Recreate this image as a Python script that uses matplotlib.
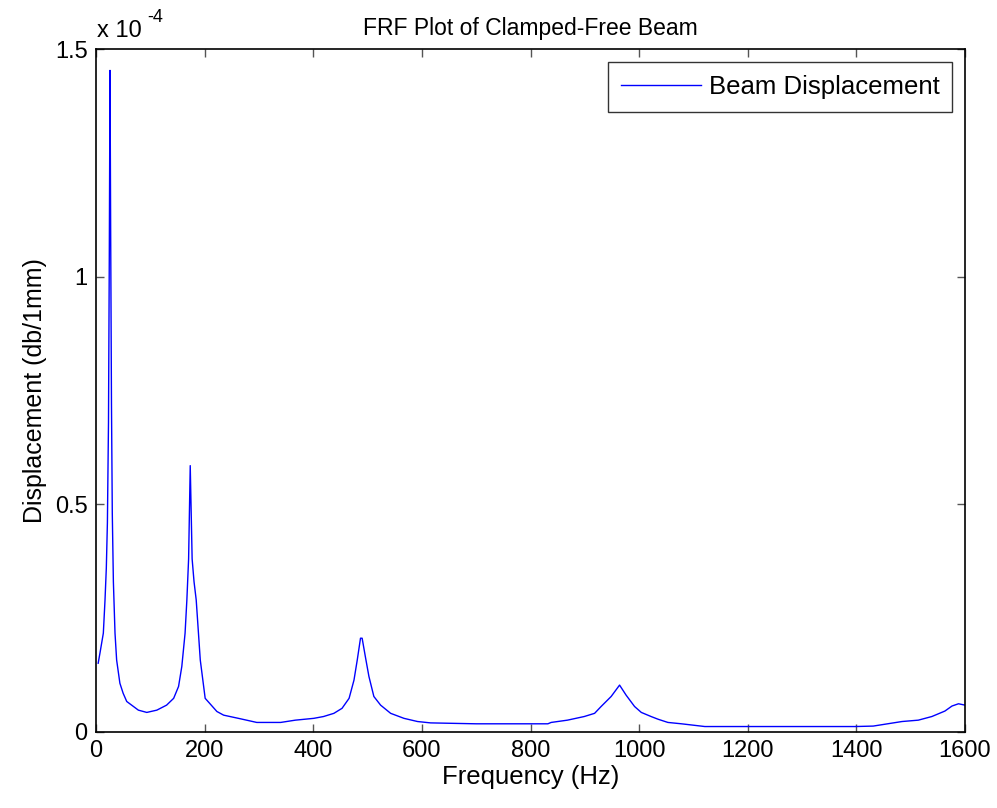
import matplotlib
matplotlib.use("Agg")
import matplotlib.pyplot as plt

plt.rcParams['font.family'] = ['Liberation Sans', 'DejaVu Sans']

# Frequency (Hz)
freq = [4, 7.4, 13.5, 16.6, 19, 21, 23, 24.5, 25.8, 27, 28.5, 30, 32, 35, 38, 44, 50,
        56.6, 69, 78, 93.5, 112, 130, 143, 152, 158, 164, 167.3, 170.5, 173.5, 177,
        180.5, 184.5, 192, 201, 222.6, 235, 266, 296, 340, 367, 401, 419, 438, 453,
        466, 475, 481, 487, 490, 496, 502.5, 511.6, 524, 542.5, 567, 592, 616, 700,
        832, 838, 868, 899, 918, 930, 948.5, 964, 976, 991.6, 1004, 1022, 1035, 1053,
        1078, 1121, 1398, 1431, 1484, 1514, 1539, 1563, 1576, 1588, 1600]
# Displacement (x 1e-4)
disp = [0.151, 0.174, 0.217, 0.29, 0.36, 0.46, 0.68, 1.05, 1.453, 1.1, 0.72, 0.48,
        0.33, 0.217, 0.158, 0.107, 0.085, 0.067, 0.056, 0.048, 0.043, 0.048, 0.059,
        0.074, 0.10, 0.144, 0.217, 0.29, 0.38, 0.585, 0.38, 0.33, 0.29, 0.158, 0.074,
        0.045, 0.037, 0.029, 0.021, 0.021, 0.026, 0.030, 0.034, 0.041, 0.052, 0.074,
        0.114, 0.158, 0.206, 0.206, 0.165, 0.122, 0.078, 0.059, 0.041, 0.030, 0.023,
        0.020, 0.018, 0.018, 0.021, 0.026, 0.034, 0.041, 0.056, 0.078, 0.103, 0.081,
        0.056, 0.043, 0.034, 0.028, 0.021, 0.018, 0.012, 0.012, 0.013, 0.023, 0.026,
        0.034, 0.046, 0.057, 0.062, 0.059]

xticks = [0, 200, 400, 600, 800, 1000, 1200, 1400, 1600]
yticks = [0, 0.5, 1, 1.5]
ytick_labels = ['0', '0.5', '1', '1.5']

fig = plt.figure(figsize=(9.97, 8.08), dpi=100)
ax = fig.add_axes([96/997, 1-732/808, (965-96)/997, (732-49)/808])

ax.plot(freq, disp, color=(0, 0, 1), lw=1.0, label='Beam Displacement')
ax.set_xlim(0, 1600)
ax.set_ylim(0, 1.5)
ax.set_xticks(xticks)
ax.set_xticklabels([str(t) for t in xticks])
ax.set_yticks(yticks)
ax.set_yticklabels(ytick_labels)
ax.tick_params(direction='in', length=6, width=1, top=True, right=True,
               labelsize=17, color='#555555', pad=6)
for s in ax.spines.values():
    s.set_linewidth(1.2)
    s.set_color('black')

ax.set_title('FRF Plot of Clamped-Free Beam', fontsize=16.5, pad=10)
ax.set_xlabel('Frequency (Hz)', fontsize=18.5, labelpad=2)
ax.set_ylabel('Displacement (db/1mm)', fontsize=18, labelpad=6)

fig.text(97/997, 1-37/808, 'x 10', fontsize=17, ha='left', va='baseline')
fig.text(147/997, 1-22/808, '-4', fontsize=13, ha='left', va='baseline')

leg = ax.legend(loc='upper right', fontsize=18.5, frameon=True, fancybox=False,
                handlelength=3.1, borderaxespad=0.5, borderpad=0.5,
                handletextpad=0.3)
leg.get_frame().set_edgecolor('black')
leg.get_frame().set_linewidth(1.0)

fig.savefig('out.png', dpi=100)
